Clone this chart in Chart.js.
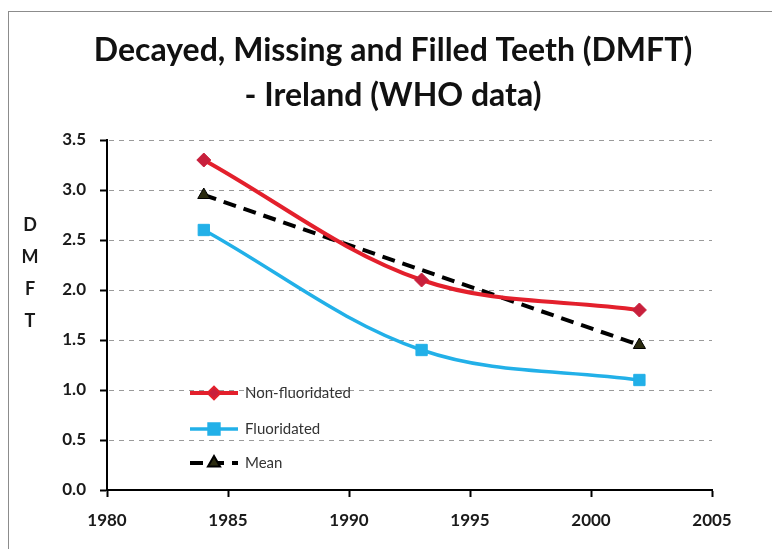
<!DOCTYPE html>
<html>
<head>
<meta charset="utf-8">
<script src="https://cdn.jsdelivr.net/npm/chart.js@4/dist/chart.umd.min.js"></script>
<style>
  html, body { margin: 0; padding: 0; background: #fff; }
  #wrap { position: relative; width: 772px; height: 549px; overflow: hidden; }
  #frame { position: absolute; left: 8px; top: 11px; width: 820px; height: 600px; border: 1px solid #8c8c8c; box-sizing: border-box; }
  canvas { position: absolute; left: 0; top: 0; }
</style>
</head>
<body>
<div id="wrap">
  <div id="frame"></div>
  <canvas id="c" width="772" height="549"></canvas>
</div>
<script>
// Survey years and DMFT scores
const years = [1984, 1993, 2002];
const nonFluoridated = [3.3, 2.1, 1.8];
const fluoridated = [2.6, 1.4, 1.1];
const meanYears = [1984, 2002];
const meanValues = [2.95, 1.45];

const titleLines = ['Decayed, Missing and Filled Teeth (DMFT)', '- Ireland (WHO data)'];
const yTitleLetters = ['D', 'M', 'F', 'T'];
const xTicks = [1980, 1985, 1990, 1995, 2000, 2005];

const RED = '#e3202c';
const RED_MARK = '#c8203c';
const BLUE = '#22b0e8';
const FONT = 'Lato, "Open Sans", "DejaVu Sans", sans-serif';

const pts = (xs, ys) => xs.map((x, i) => ({ x, y: ys[i] }));

// Two-line heading centred on the page, plus the vertical "D M F T" axis title
const headings = {
  id: 'headings',
  afterDraw(chart) {
    const ctx = chart.ctx;
    ctx.save();
    ctx.fillStyle = '#111';
    ctx.textAlign = 'center';
    ctx.textBaseline = 'middle';
    ctx.font = 'bold 32px ' + FONT;
    titleLines.forEach((line, i) => ctx.fillText(line, 393, 51 + i * 45));
    ctx.font = 'bold 18px ' + FONT;
    ctx.fillStyle = '#1a1a1a';
    yTitleLetters.forEach((ch, i) => ctx.fillText(ch, 30, 225 + i * 32));
    ctx.restore();
  }
};

// Legend drawn inside the plot: line sample with marker, then label
const innerLegend = {
  id: 'innerLegend',
  afterDatasetsDraw(chart) {
    const ctx = chart.ctx;
    const x0 = 190, x1 = 238, mx = (x0 + x1) / 2;
    const rows = [393, 429, 463];
    ctx.save();
    chart.data.datasets.forEach((ds, i) => {
      const y = rows[i];
      ctx.beginPath();
      ctx.strokeStyle = ds.borderColor;
      ctx.lineWidth = ds.borderWidth;
      ctx.setLineDash(ds.borderDash || []);
      ctx.moveTo(x0, y);
      ctx.lineTo(x1, y);
      ctx.stroke();
      ctx.setLineDash([]);
      Chart.helpers.drawPoint(ctx, {
        pointStyle: ds.pointStyle,
        radius: ds.legendRadius,
        borderWidth: 1
      }, mx, y);
      ctx.fillStyle = ds.pointBackgroundColor;
      ctx.strokeStyle = ds.pointBorderColor;
      ctx.fill();
      ctx.font = '15px ' + FONT;
      ctx.fillStyle = '#333';
      ctx.textAlign = 'left';
      ctx.textBaseline = 'middle';
      ctx.fillText(ds.label, 245, y);
    });
    ctx.restore();
  }
};

// Dashed horizontal gridlines across the plot
const dashGrid = {
  id: 'dashGrid',
  beforeDatasetsDraw(chart) {
    const { ctx, chartArea, scales } = chart;
    ctx.save();
    ctx.strokeStyle = '#9a9a9a';
    ctx.lineWidth = 1;
    ctx.setLineDash([5, 5]);
    scales.y.ticks.forEach(t => {
      if (t.value === 0) return;
      const y = Math.round(scales.y.getPixelForValue(t.value)) + 0.5;
      ctx.beginPath();
      ctx.moveTo(chartArea.left + 2, y);
      ctx.lineTo(chartArea.right, y);
      ctx.stroke();
    });
    ctx.restore();
  }
};

new Chart(document.getElementById('c'), {
  type: 'line',
  data: {
    datasets: [
      {
        label: 'Non-fluoridated',
        data: pts(years, nonFluoridated),
        borderColor: RED,
        borderWidth: 4,
        tension: 0.35,
        pointStyle: 'rectRot',
        pointRadius: 7,
        legendRadius: 5,
        pointBackgroundColor: RED_MARK,
        pointBorderColor: RED_MARK,
        pointBorderWidth: 1
      },
      {
        label: 'Fluoridated',
        data: pts(years, fluoridated),
        borderColor: BLUE,
        borderWidth: 3.5,
        tension: 0.35,
        pointStyle: 'rect',
        pointRadius: 8,
        legendRadius: 7,
        pointBackgroundColor: BLUE,
        pointBorderColor: BLUE,
        pointBorderWidth: 1
      },
      {
        label: 'Mean',
        data: pts(meanYears, meanValues),
        borderColor: '#000',
        borderWidth: 4,
        borderDash: [13, 8],
        tension: 0,
        pointStyle: 'triangle',
        pointRadius: 7,
        legendRadius: 5,
        pointBackgroundColor: '#2b2b10',
        pointBorderColor: '#000',
        pointBorderWidth: 1
      }
    ]
  },
  options: {
    responsive: false,
    animation: false,
    events: [],
    layout: { padding: { left: 0, right: 60, top: 140, bottom: 0 } },
    plugins: {
      legend: { display: false },
      tooltip: { enabled: false },
      title: { display: false }
    },
    scales: {
      x: {
        type: 'linear',
        min: 1980,
        max: 2005,
        afterBuildTicks(scale) { scale.ticks = xTicks.map(v => ({ value: v })); },
        afterFit(scale) { scale.height = 59; },
        grid: { display: true, drawOnChartArea: false, tickLength: 7, tickColor: '#000', tickWidth: 2 },
        border: { display: true, color: '#000', width: 2 },
        ticks: {
          color: '#1a1a1a',
          padding: 13,
          maxRotation: 0,
          font: { family: FONT, size: 17, weight: 'bold' },
          callback: v => String(v)
        }
      },
      y: {
        min: 0,
        max: 3.5,
        afterFit(scale) { scale.width = 107; },
        grid: {
          display: true,
          drawOnChartArea: false,
          tickLength: 7,
          tickColor: '#000',
          tickWidth: 2
        },
        border: { display: true, color: '#000', width: 2 },
        ticks: {
          stepSize: 0.5,
          color: '#1a1a1a',
          padding: 14,
          font: { family: FONT, size: 17, weight: 'bold' },
          callback: v => v.toFixed(1)
        }
      }
    }
  },
  plugins: [dashGrid, headings, innerLegend]
});
</script>
</body>
</html>
